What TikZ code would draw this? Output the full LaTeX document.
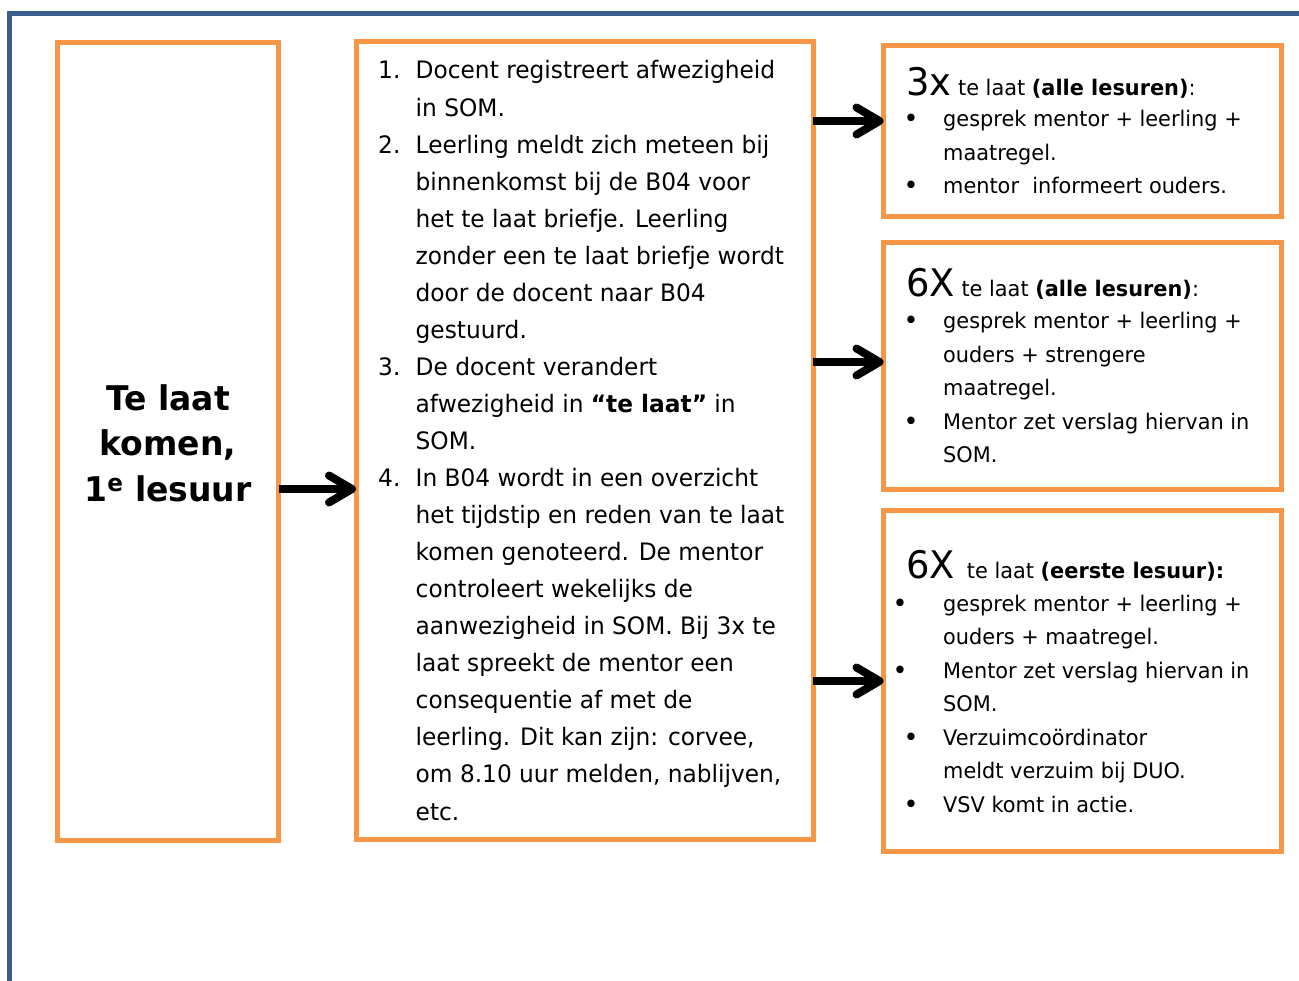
\documentclass[tikz,border=0pt]{standalone}
\usepackage{fontspec}
\setmainfont{DejaVu Sans}[FakeStretch=0.97]
\usetikzlibrary{arrows.meta}
\definecolor{boxorange}{HTML}{F79646}
\definecolor{frameblue}{RGB}{59,94,140}
\newcommand\bignumfont{\fontsize{38}{40}\selectfont}
\begin{document}
\begin{tikzpicture}[x=1pt,y=-1pt,
  box/.style={draw=boxorange, line width=5pt, rectangle, inner sep=0pt, outer sep=0pt},
  arr/.style={line width=8pt, -{Straight Barb[length=23pt,width=27pt,round]}},
  mid/.style={anchor=base west, inner sep=0pt, font=\fontsize{24}{28}\selectfont},
  rt/.style={anchor=base west, inner sep=0pt, font=\fontsize{21.5}{26}\selectfont},
  bul/.style={anchor=base, inner sep=0pt, font=\fontsize{26}{26}\selectfont},
  ttl/.style={anchor=base, inner sep=0pt, font=\bfseries\fontsize{34}{40}\selectfont}
]
\useasboundingbox (0,0) rectangle (1299,981);
\fill[white] (0,0) rectangle (1299,981);
% outer frame
\draw[frameblue, line width=5pt] (9.2,981) -- (9.2,13.2) -- (1299,13.2);

% boxes
\node[box, minimum width=221.5pt, minimum height=797pt] (b1) at (167.75,441.5) {};
\node[box, minimum width=457pt, minimum height=797pt] (b2) at (584.5,440.5) {};
\node[box, minimum width=398pt, minimum height=170.5pt] (b3) at (1082.5,131.25) {};
\node[box, minimum width=397.5pt, minimum height=246.5pt] (b4) at (1082.25,365.75) {};
\node[box, minimum width=397.5pt, minimum height=341.5pt] (b5) at (1082.25,680.75) {};

% box 1 title
\node[ttl] (t1) at (168,411) {Te laat};
\node[ttl] (t2) at (168,456) {komen,};
\node[ttl] (t3) at (168,501) {1\textsuperscript{e} lesuur};

% box 2 list
\node[mid] (n1) at (378,79) {1.};
\node[mid] (n2) at (378,153.1) {2.};
\node[mid] (n3) at (378,375.4) {3.};
\node[mid] (n4) at (378,486.55) {4.};
\foreach \txt [count=\i] in {
  Docent registreert afwezigheid,
  in SOM.,
  Leerling meldt zich meteen bij,
  binnenkomst bij de B04 voor,
  het te laat briefje. Leerling,
  zonder een te laat briefje wordt,
  door de docent naar B04,
  gestuurd.,
  De docent verandert,
  afwezigheid in \textbf{“te laat”} in,
  SOM.,
  In B04 wordt in een overzicht,
  het tijdstip en reden van te laat,
  komen genoteerd. De mentor,
  controleert wekelijks de,
  aanwezigheid in SOM. Bij 3x te,
  laat spreekt de mentor een,
  consequentie af met de,
  {leerling. Dit kan zijn: corvee,},
  {om 8.10 uur melden, nablijven,},
  etc.}{
  \pgfmathsetmacro\yy{79+(\i-1)*37.05}
  \node[mid] (m\i) at (415.5,\yy) {\txt};
}

% box 3
\node[rt] (h3) at (906,96) {{\bignumfont 3x} te laat \textbf{(alle lesuren)}:};
\node[bul] (p31) at (911,128) {•};
\node[rt] (r31) at (943,127) {gesprek mentor + leerling +};
\node[rt] (r32) at (943,160.5) {maatregel.};
\node[bul] (p32) at (911,195) {•};
\node[rt] (r33) at (943,194) {mentor\ \ informeert ouders.};

% box 4
\node[rt] (h4) at (906,297) {{\bignumfont 6X} te laat \textbf{(alle lesuren)}:};
\node[bul] (p41) at (911,330) {•};
\node[rt] (r41) at (943,329) {gesprek mentor + leerling +};
\node[rt] (r42) at (943,362.5) {ouders + strengere};
\node[rt] (r43) at (943,396) {maatregel.};
\node[bul] (p42) at (911,430.5) {•};
\node[rt] (r44) at (943,429.5) {Mentor zet verslag hiervan in};
\node[rt] (r45) at (943,463) {SOM.};

% box 5
\node[rt] (h5) at (906,578) {{\bignumfont 6X}\hspace{12pt}te laat \textbf{(eerste lesuur):}};
\node[bul] (p51) at (900,612) {•};
\node[rt] (r51) at (943,611) {gesprek mentor + leerling +};
\node[rt] (r52) at (943,644.5) {ouders + maatregel.};
\node[bul] (p52) at (900,679) {•};
\node[rt] (r53) at (943,678) {Mentor zet verslag hiervan in};
\node[rt] (r54) at (943,711.5) {SOM.};
\node[bul] (p53) at (911,746) {•};
\node[rt] (r55) at (943,745) {Verzuimcoördinator};
\node[rt] (r56) at (943,778.5) {meldt verzuim bij DUO.};
\node[bul] (p54) at (911,813) {•};
\node[rt] (r57) at (943,812) {VSV komt in actie.};

% arrows
\draw[arr] (b1.east |- 0,489) -- (b2.west |- 0,489);
\draw[arr] (b2.east |- 0,121) -- (b3.west |- 0,121);
\draw[arr] (b2.east |- 0,362) -- (b4.west |- 0,362);
\draw[arr] (b2.east |- 0,681) -- (b5.west |- 0,681);
\end{tikzpicture}
\end{document}
